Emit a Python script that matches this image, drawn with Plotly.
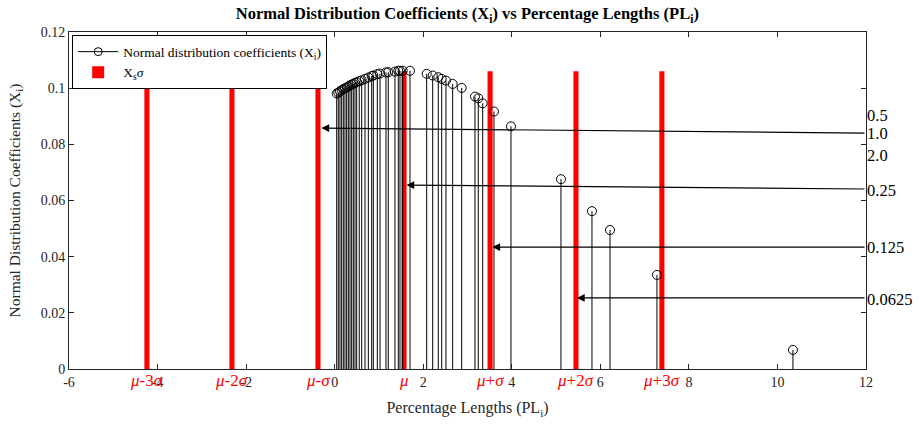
import plotly.graph_objects as go

# ---- data ----
stem_x = [0.046, 0.082, 0.120, 0.158, 0.195, 0.233, 0.271, 0.308, 0.346, 0.384,
          0.421, 0.459, 0.497, 0.555, 0.610, 0.685, 0.760, 0.836, 0.873, 0.963,
          1.024, 1.159, 1.211, 1.362, 1.437, 1.475, 1.536, 1.701,
          2.078, 2.214, 2.340, 2.417, 2.514, 2.665, 2.869, 3.169, 3.243, 3.343,
          3.598, 3.982, 5.111, 5.811, 6.218, 7.279, 10.35]
stem_y = [0.0981, 0.0984, 0.0989, 0.0993, 0.0996, 0.1000, 0.1002, 0.1006, 0.1010, 0.1013,
          0.1015, 0.1019, 0.1021, 0.1025, 0.1028, 0.1033, 0.1038, 0.1043, 0.1045, 0.1050,
          0.1052, 0.1056, 0.1057, 0.1059, 0.1062, 0.1062, 0.1062, 0.1062,
          0.1051, 0.1045, 0.1039, 0.1033, 0.1027, 0.1015, 0.1001, 0.0970, 0.0964, 0.0946,
          0.0917, 0.0864, 0.0676, 0.0562, 0.0495, 0.0335, 0.0068]

sigma_x = [-4.24, -2.32, -0.377, 1.566, 3.51, 5.45, 7.39]
sigma_h = [0.106] * 7
sigma_labels = ["<i>μ</i>-3<i>σ</i>", "<i>μ</i>-2<i>σ</i>", "<i>μ</i>-<i>σ</i>", "<i>μ</i>",
                "<i>μ</i>+<i>σ</i>", "<i>μ</i>+2<i>σ</i>", "<i>μ</i>+3<i>σ</i>"]

x_ticks = [-6, -4, -2, 0, 2, 4, 6, 8, 10, 12]
x_ticklabels = ["-6", "-4", "-2", "0", "2", "4", "6", "8", "10", "12"]
y_ticks = [0, 0.02, 0.04, 0.06, 0.08, 0.1, 0.12]
y_ticklabels = ["0", "0.02", "0.04", "0.06", "0.08", "0.1", "0.12"]

side_labels = ["0.5", "1.0", "2.0", "0.25", "0.125", "0.0625"]
side_label_y = [0.0904, 0.0840, 0.0762, 0.0637, 0.0434, 0.0249]

arrow_head_x = [-0.30, 1.62, 3.56, 5.47]
arrow_head_y = [0.0858, 0.0655, 0.0434, 0.0253]
arrow_tail_x = [12, 12, 12, 12]
arrow_tail_y = [0.0840, 0.0641, 0.0434, 0.0253]

FONT = "Liberation Serif"

# ---- build stem segments from data ----
seg_x, seg_y = [], []
for xv, yv in zip(stem_x, stem_y):
    seg_x += [xv, xv, None]
    seg_y += [0, yv, None]

fig = go.Figure()

fig.add_trace(go.Bar(
    x=sigma_x, y=sigma_h, width=0.115, marker=dict(color="#ff0000", line=dict(width=0)),
    name="X<sub>s</sub><i>σ</i>", showlegend=True, legendrank=2))

fig.add_trace(go.Scatter(
    x=[None], y=[None], mode="lines+markers",
    line=dict(color="black", width=1),
    marker=dict(symbol="circle-open", size=8, color="black"),
    name="Normal distribution coefficients (X<sub>i</sub>)", legendrank=1))

fig.add_trace(go.Scatter(
    x=seg_x, y=seg_y, mode="lines", line=dict(color="black", width=1),
    showlegend=False, hoverinfo="skip"))

fig.add_trace(go.Scatter(
    x=stem_x, y=stem_y, mode="markers",
    marker=dict(symbol="circle-open", size=9, color="black", line=dict(width=1)),
    showlegend=False))

annotations = []
for xv, lab in zip(sigma_x, sigma_labels):
    annotations.append(dict(x=xv, y=0, xref="x", yref="y", text=lab, showarrow=False,
                            yanchor="top", yshift=0,
                            font=dict(family=FONT, size=17, color="#ff0000")))
for lab, yv in zip(side_labels, side_label_y):
    annotations.append(dict(x=1, y=yv, xref="paper", yref="y", text=lab, showarrow=False,
                            xanchor="left", xshift=-1,
                            font=dict(family=FONT, size=16.5, color="black")))
for hx, hy, tx, ty in zip(arrow_head_x, arrow_head_y, arrow_tail_x, arrow_tail_y):
    annotations.append(dict(x=hx, y=hy, ax=tx, ay=ty, xref="x", yref="y",
                            axref="x", ayref="y", text="", showarrow=True,
                            arrowhead=2, arrowsize=1.3, arrowwidth=1.2, arrowcolor="black"))

fig.update_layout(
    width=920, height=425,
    margin=dict(l=69, r=54, t=32, b=56),
    paper_bgcolor="white", plot_bgcolor="white",
    font=dict(family=FONT, size=14, color="#262626"),
    title=dict(text="<b>Normal Distribution Coefficients (X<sub>i</sub>) vs Percentage Lengths (PL<sub>i</sub>)</b>",
               x=0.508, xanchor="center", y=0.968, yanchor="middle",
               font=dict(family=FONT, size=16.5, color="black")),
    barmode="overlay",
    showlegend=True,
    legend=dict(x=0.004, y=0.99, xanchor="left", yanchor="top",
                bgcolor="white", bordercolor="black", borderwidth=1,
                font=dict(family=FONT, size=13.5, color="black"),
                traceorder="normal", itemwidth=40),
    annotations=annotations,
)

fig.update_xaxes(range=[-6, 12], tickvals=x_ticks, ticktext=x_ticklabels,
                 ticks="inside", ticklen=5, tickcolor="#262626",
                 showline=True, linecolor="#262626", linewidth=1, mirror="ticks",
                 showgrid=False, zeroline=False, automargin=False,
                 title=dict(text="Percentage Lengths (PL<sub>i</sub>)", font=dict(family=FONT, size=16), standoff=13))
fig.update_yaxes(range=[0, 0.12], tickvals=y_ticks, ticktext=y_ticklabels,
                 ticks="inside", ticklen=5, tickcolor="#262626",
                 showline=True, linecolor="#262626", linewidth=1, mirror="ticks",
                 showgrid=False, zeroline=False, automargin=False,
                 title=dict(text="Normal Distribution Coefficients (X<sub>i</sub>)", font=dict(family=FONT, size=15.5), standoff=16))

fig.write_html("out.html")
